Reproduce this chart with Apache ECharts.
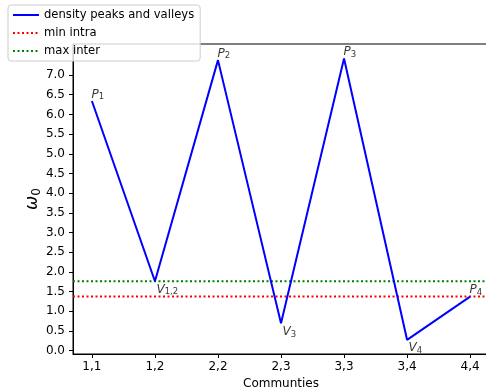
<!DOCTYPE html>
<html>
<head>
<meta charset="utf-8">
<script src="https://cdn.jsdelivr.net/npm/echarts@6/dist/echarts.min.js"></script>
<style>
  html, body { margin: 0; padding: 0; background: #fff; }
  #chart { width: 486px; height: 388px; }
</style>
</head>
<body>
<div id="chart"></div>
<script>
// communities along the x axis
const communities = ['1,1', '1,2', '2,2', '2,3', '3,3', '3,4', '4,4']
// omega_0 at each peak / valley
const omega = [6.34, 1.76, 7.38, 0.69, 7.42, 0.27, 1.37]
// point names: letter + subscript
const pointLetters = ['P', 'V', 'P', 'V', 'P', 'V', 'P']
const pointSubs = ['1', '1,2', '2', '3', '3', '4', '4']
const minIntra = 1.37
const maxInter = 1.76
const yTicks = [0, 0.5, 1, 1.5, 2, 2.5, 3, 3.5, 4, 4.5, 5, 5.5, 6, 6.5, 7]

const X_MIN = -0.3
const X_MAX = 6.3
const FONT = 'DejaVu Sans'

const chart = echarts.init(document.getElementById('chart'))

const xIdx = communities.map((_, i) => i)
const peaks = omega.map((v, i) => [i, v])

const labelFor = (i) => {
  const isPeak = pointLetters[i] === 'P'
  return {
    show: true,
    position: isPeak ? [0, 1] : [2, 2],
    align: 'left',
    verticalAlign: isPeak ? 'bottom' : 'top',
    formatter: `{i|${pointLetters[i]}}{s|${pointSubs[i]}}`,
    rich: {
      i: { fontFamily: FONT, fontSize: 12, fontStyle: 'italic', color: '#000', lineHeight: 14 },
      s: { fontFamily: FONT, fontSize: 8.5, color: '#000', verticalAlign: 'bottom', padding: [6, 0, 0, 0], lineHeight: 14 },
    },
  }
}

chart.setOption({
  animation: false,
  textStyle: { fontFamily: FONT },
  grid: {
    left: 73, right: -3, top: 44, bottom: 34,
    outerBoundsMode: 'none', containLabel: false,
    show: true, borderColor: '#000', borderWidth: 1, backgroundColor: 'transparent',
  },
  legend: {
    orient: 'vertical',
    left: 8,
    top: 5,
    itemWidth: 26,
    itemHeight: 10,
    itemGap: 6,
    padding: [4, 6, 4, 4],
    backgroundColor: 'rgba(255,255,255,0.8)',
    borderColor: '#cccccc',
    borderWidth: 1,
    borderRadius: 3,
    itemStyle: { opacity: 0, borderWidth: 0 },
    textStyle: { fontFamily: FONT, fontSize: 11.6, color: '#000' },
    data: ['density peaks and valleys', 'min intra', 'max inter'],
  },
  xAxis: {
    type: 'value',
    min: X_MIN,
    max: X_MAX,
    name: 'Communties',
    nameLocation: 'middle',
    nameGap: 22,
    nameTextStyle: { fontFamily: FONT, fontSize: 12, color: '#000' },
    splitLine: { show: false },
    axisLine: { onZero: false, lineStyle: { color: '#000', width: 1 } },
    axisTick: { show: true, length: 4, lineStyle: { color: '#000' }, customValues: xIdx },
    axisLabel: {
      fontFamily: FONT, fontSize: 12, color: '#000', margin: 7,
      customValues: xIdx,
      formatter: (v) => communities[Math.round(v)],
    },
  },
  yAxis: {
    type: 'value',
    min: -0.09,
    max: 7.79,
    name: '{w|ω}{z|0}',
    nameLocation: 'middle',
    nameRotate: 90,
    nameGap: 30,
    nameMoveOverlap: false,
    nameTextStyle: {
      rich: {
        w: { fontFamily: FONT, fontSize: 17, fontStyle: 'italic', color: '#000', lineHeight: 20 },
        z: { fontFamily: FONT, fontSize: 12, color: '#000', verticalAlign: 'bottom', padding: [7, 0, 0, 0], lineHeight: 20 },
      },
    },
    splitLine: { show: false },
    axisLine: { show: true, onZero: false, lineStyle: { color: '#000', width: 1 } },
    axisTick: { show: true, length: 4, lineStyle: { color: '#000' }, customValues: yTicks },
    axisLabel: {
      fontFamily: FONT, fontSize: 12, color: '#000', margin: 8,
      customValues: yTicks,
      formatter: (v) => v.toFixed(1),
    },
  },
  series: [
    {
      name: 'density peaks and valleys',
      type: 'line',
      data: peaks,
      symbol: 'none',
      color: '#0000ff',
      lineStyle: { color: '#0000ff', width: 2 },
      z: 3,
    },
    {
      name: 'min intra',
      type: 'line',
      data: [[X_MIN, minIntra], [X_MAX, minIntra]],
      symbol: 'none',
      color: '#ff0000',
      lineStyle: { color: '#ff0000', width: 2, type: [2, 2.5] },
      z: 2,
    },
    {
      name: 'max inter',
      type: 'line',
      data: [[X_MIN, maxInter], [X_MAX, maxInter]],
      symbol: 'none',
      color: '#008000',
      lineStyle: { color: '#008000', width: 2, type: [2, 2.5] },
      z: 2,
    },
    {
      name: 'labels',
      type: 'scatter',
      symbolSize: 1,
      itemStyle: { color: 'rgba(0,0,0,0)' },
      data: peaks.map((p, i) => ({ value: p, label: labelFor(i) })),
      z: 4,
    },
  ],
})
</script>
</body>
</html>
